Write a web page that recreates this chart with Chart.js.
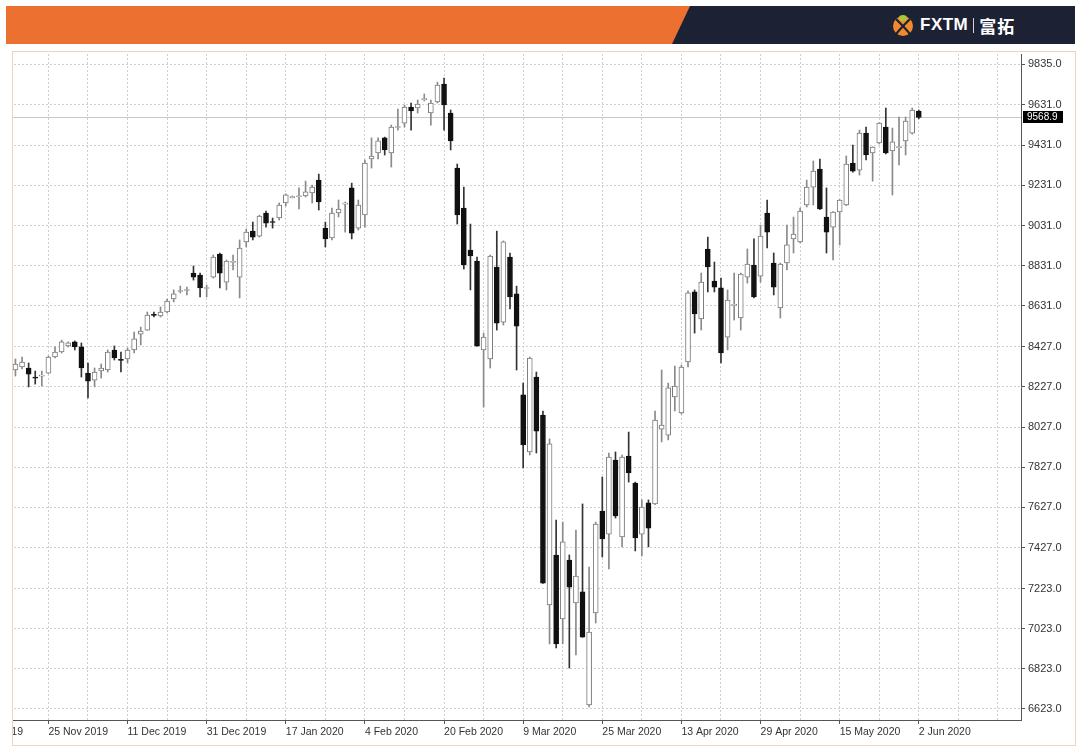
<!DOCTYPE html>
<html>
<head>
<meta charset="utf-8">
<script src="https://cdn.jsdelivr.net/npm/chart.js@4.4.1/dist/chart.umd.min.js"></script>
<style>
  body { margin: 0; width: 1080px; height: 751px; background: #fff; position: relative; overflow: hidden; font-family: "Liberation Sans", Arial, sans-serif; }
  .banner { position: absolute; left: 6px; top: 6px; width: 1069px; height: 38px; background: #1d2134; }
  .banner .orange { position: absolute; left: 0; top: 0; width: 684px; height: 38px; background: #ec7130;
    clip-path: polygon(0 0, 100% 0, calc(100% - 18px) 100%, 0 100%); }
  .logo { position: absolute; left: 886px; top: 7px; height: 24px; display: flex; align-items: center; color: #fff; }
  .logo .name { font: bold 17px "Liberation Sans", Arial, sans-serif; margin-left: 6px; letter-spacing: 0.5px; }
  .logo .sep { width: 1px; height: 15px; background: #fff; margin: 0 5px; opacity: 0.8; }
  .logo .cn { font: bold 17px "Noto Sans CJK SC", sans-serif; letter-spacing: 1px; }
  .frame { position: absolute; left: 12px; top: 51px; width: 1064px; height: 695px; border: 1px solid #f3d2bb; box-sizing: border-box; }
  .plot { position: absolute; left: 13px; top: 52px; width: 1061px; height: 692px; overflow: hidden; }
  .holder { position: absolute; left: -47px; top: 0; width: 1109px; height: 692px; }
</style>
</head>
<body>
<div class="banner">
  <div class="orange"></div>
  <div class="logo">
    <svg width="22" height="24" viewBox="0 0 22 24">
      <circle cx="11" cy="13" r="10" fill="#f08a2c"/>
      <path d="M4 6 C9 11, 13 15, 18 21" stroke="#1d2134" stroke-width="2.2" fill="none"/>
      <path d="M18 6 C13 11, 9 15, 4 21" stroke="#1d2134" stroke-width="2.2" fill="none"/>
      <ellipse cx="11" cy="5" rx="4" ry="3" fill="#a6c83a"/>
    </svg>
    <span class="name">FXTM</span><span class="sep"></span><span class="cn">富拓</span>
  </div>
</div>
<div class="frame"></div>
<div class="plot"><div class="holder"><canvas id="chart"></canvas></div></div>

<script>
// daily bars, 18 Nov 2019 .. 2 Jun 2020
const opens = [
  8311, 8326, 8321, 8276, 8281, 8296, 8376, 8401, 8431, 8451, 8426, 8296, 8261, 8306, 8311, 8411, 8363, 8366, 8411, 8490,
  8510, 8587, 8580, 8600, 8665, 8702, 8707, 8794, 8784, 8717, 8774, 8889, 8749, 8847, 8774, 8949, 9003, 8978, 9093, 9050,
  9068, 9143, 9170, 9174, 9178, 9193, 9257, 9018, 8969, 9093, 9137, 9218, 9018, 9083, 9362, 9392, 9467, 9392, 9519, 9541,
  9621, 9616, 9658, 9591, 9646, 9735, 9591, 9317, 9118, 8909, 8854, 8411, 8366, 8824, 8550, 8874, 8690, 8187, 7903, 8276,
  8087, 7141, 7390, 7071, 7365, 7151, 7206, 6643, 7101, 7609, 7494, 7863, 7480, 7883, 7748, 7494, 7649, 7644, 8017, 7987,
  8177, 8097, 8351, 8700, 8565, 8914, 8754, 8720, 8475, 8633, 8570, 8774, 8834, 8779, 9093, 8844, 8620, 8844, 8964, 8949,
  9133, 9222, 9312, 9073, 9023, 9098, 9133, 9342, 9307, 9491, 9392, 9442, 9521, 9402, 9419, 9452, 9491, 9601
];
const highs = [
  8366, 8376, 8346, 8306, 8306, 8381, 8426, 8460, 8451, 8456, 8446, 8346, 8321, 8341, 8411, 8431, 8401, 8421, 8500, 8525,
  8600, 8600, 8625, 8665, 8710, 8729, 8724, 8829, 8794, 8734, 8884, 8894, 8859, 8884, 8959, 9013, 9048, 9083, 9103, 9068,
  9143, 9188, 9178, 9218, 9252, 9232, 9287, 9048, 9118, 9158, 9148, 9242, 9158, 9357, 9467, 9467, 9471, 9531, 9611, 9631,
  9641, 9656, 9686, 9656, 9745, 9765, 9606, 9337, 9222, 9038, 8874, 8495, 8884, 9003, 8954, 8894, 8729, 8246, 8376, 8301,
  8107, 7968, 7564, 7554, 7390, 7514, 7644, 7330, 7554, 7778, 7898, 7903, 7888, 8002, 7753, 7664, 7664, 8107, 8311, 8246,
  8331, 8336, 8705, 8710, 8794, 8973, 8849, 8769, 8710, 8794, 8794, 8914, 8964, 9033, 9158, 8894, 8844, 9033, 9073, 9118,
  9257, 9352, 9362, 9218, 9100, 9160, 9377, 9432, 9506, 9521, 9423, 9543, 9616, 9516, 9571, 9571, 9616, 9606
];
const lows = [
  8281, 8316, 8227, 8241, 8231, 8294, 8371, 8396, 8426, 8411, 8276, 8172, 8227, 8271, 8301, 8361, 8301, 8346, 8396, 8436,
  8508, 8575, 8575, 8595, 8650, 8695, 8685, 8759, 8675, 8675, 8769, 8720, 8710, 8809, 8670, 8924, 8959, 8973, 9023, 9018,
  9058, 9128, 9168, 9113, 9173, 9143, 9108, 8924, 8959, 9073, 8998, 8964, 9008, 9023, 9317, 9362, 9382, 9322, 9506, 9521,
  9506, 9591, 9651, 9531, 9641, 9506, 9407, 9038, 8814, 8710, 8428, 8127, 8321, 8510, 8535, 8615, 8311, 7823, 7888, 7898,
  7248, 6947, 6927, 6947, 6827, 6892, 6980, 6633, 7051, 7380, 7320, 7574, 7430, 7753, 7410, 7385, 7430, 7641, 7953, 7963,
  8107, 8092, 8326, 8495, 8510, 8700, 8700, 8346, 8411, 8560, 8510, 8744, 8670, 8749, 8919, 8685, 8570, 8809, 8894, 8944,
  9123, 9133, 9110, 8894, 8859, 8934, 9130, 9297, 9282, 9357, 9252, 9437, 9387, 9183, 9332, 9382, 9486, 9562
];
const closes = [
  8341, 8351, 8291, 8271, 8286, 8376, 8401, 8451, 8446, 8426, 8321, 8256, 8301, 8321, 8401, 8371, 8359, 8411, 8466, 8505,
  8585, 8583, 8600, 8655, 8690, 8706, 8711, 8774, 8720, 8721, 8874, 8794, 8854, 8851, 8919, 8998, 8973, 9078, 9043, 9046,
  9133, 9183, 9174, 9176, 9198, 9222, 9148, 8964, 9093, 9113, 9142, 8993, 9133, 9342, 9377, 9452, 9407, 9521, 9523, 9621,
  9601, 9636, 9662, 9641, 9730, 9631, 9452, 9083, 8834, 8879, 8431, 8475, 8879, 8545, 8949, 8675, 8530, 7938, 8371, 8007,
  7250, 7943, 6947, 7455, 7230, 7285, 6981, 7006, 7544, 7470, 7878, 7584, 7878, 7798, 7475, 7629, 7524, 8062, 8037, 8222,
  8231, 8326, 8695, 8590, 8749, 8824, 8724, 8396, 8660, 8637, 8789, 8839, 8675, 8978, 8998, 8724, 8839, 8934, 8988, 9103,
  9222, 9302, 9113, 8998, 9098, 9158, 9337, 9302, 9491, 9382, 9422, 9541, 9392, 9447, 9423, 9551, 9606, 9568.9
];
const tickLabels = ['7 Nov 2019', '25 Nov 2019', '11 Dec 2019', '31 Dec 2019', '17 Jan 2020', '4 Feb 2020', '20 Feb 2020',
  '9 Mar 2020', '25 Mar 2020', '13 Apr 2020', '29 Apr 2020', '15 May 2020', '2 Jun 2020'];
const priceTicks = [9835, 9631, 9431, 9231, 9031, 8831, 8631, 8427, 8227, 8027, 7827, 7627, 7427, 7223, 7023, 6823, 6623];
const lastPrice = 9568.9;

const leadBars = 7;     // bars scrolled off the left edge
const tailBars = 15;    // empty space right of the last bar
const labelEvery = 12;
const gridEvery = 6;

const total = leadBars + opens.length + tailBars;
const labels = [];
for (let i = 0; i < total; i++) {
  labels.push(i % labelEvery === 0 && tickLabels[i / labelEvery] ? tickLabels[i / labelEvery] : '');
}
const pad = n => Array(n).fill(null);
const bodies = [...pad(leadBars), ...opens.map((o, i) => [o, closes[i]]), ...pad(tailBars)];
const wicks = [...pad(leadBars), ...lows.map((l, i) => [l, highs[i]]), ...pad(tailBars)];
const isUp = [...pad(leadBars), ...opens.map((o, i) => closes[i] >= o), ...pad(tailBars)];

const gridColor = '#cfcfcf';

const priceLine = {
  id: 'priceLine',
  beforeDatasetsDraw(chart) {
    const { ctx, chartArea, scales } = chart;
    const y = Math.round(scales.y.getPixelForValue(lastPrice)) + 0.5;
    ctx.save();
    ctx.strokeStyle = '#c8c8c8';
    ctx.lineWidth = 1;
    ctx.beginPath();
    ctx.moveTo(chartArea.left, y);
    ctx.lineTo(chartArea.right, y);
    ctx.stroke();
    ctx.restore();
  },
  afterDraw(chart) {
    const { ctx, chartArea, scales } = chart;
    const y = Math.round(scales.y.getPixelForValue(lastPrice));
    ctx.save();
    ctx.fillStyle = '#000';
    ctx.fillRect(chartArea.right + 2, y - 6, 40, 12);
    ctx.fillStyle = '#fff';
    ctx.font = '10px "Liberation Sans", Arial, sans-serif';
    ctx.textBaseline = 'middle';
    ctx.fillText(lastPrice.toFixed(1), chartArea.right + 6, y + 0.5);
    ctx.restore();
  }
};

new Chart(document.getElementById('chart'), {
  type: 'bar',
  data: {
    labels: labels,
    datasets: [
      {
        label: 'body',
        data: bodies,
        order: 0,
        grouped: false,
        barThickness: 5,
        borderWidth: 1,
        borderSkipped: false,
        minBarLength: 1,
        backgroundColor: isUp.map(u => u ? '#ffffff' : '#111111'),
        borderColor: isUp.map(u => u ? '#7a7a7a' : '#111111')
      },
      {
        label: 'wick',
        data: wicks,
        order: 1,
        grouped: false,
        barThickness: 1,
        borderWidth: 0,
        backgroundColor: isUp.map(u => u ? '#8a8a8a' : '#333333')
      }
    ]
  },
  options: {
    animation: false,
    responsive: true,
    maintainAspectRatio: false,
    layout: { padding: { top: 2, left: 0, right: 0, bottom: 0 } },
    plugins: { legend: { display: false }, tooltip: { enabled: false } },
    scales: {
      x: {
        offset: true,
        grid: {
          offset: false,
          color: c => (c.index % gridEvery === 0 ? gridColor : 'rgba(0,0,0,0)'),
          tickColor: c => (c.index % labelEvery === 0 && labels[c.index] ? '#555' : 'rgba(0,0,0,0)'),
          tickLength: 4,
          tickBorderDash: []
        },
        border: { color: '#555', width: 1, dash: [2, 2] },
        ticks: {
          autoSkip: false,
          maxRotation: 0,
          minRotation: 0,
          align: 'start',
          padding: 2,
          color: '#333',
          font: { family: '"Liberation Sans", Arial, sans-serif', size: 10.5 }
        },
        afterFit: s => { s.height = 24; s.paddingLeft = 0; s.paddingRight = 0; }
      },
      y: {
        position: 'right',
        min: 6568,
        max: 9885,
        afterBuildTicks: s => { s.ticks = priceTicks.map(v => ({ value: v })); },
        grid: { color: gridColor, tickColor: '#555', tickLength: 4, tickBorderDash: [] },
        border: { color: '#555', width: 1, dash: [2, 2] },
        ticks: {
          padding: 3,
          color: '#333',
          font: { family: '"Liberation Sans", Arial, sans-serif', size: 11 },
          callback: v => Number(v).toFixed(1)
        },
        afterFit: s => { s.width = 54; s.paddingTop = 0; s.paddingBottom = 0; }
      }
    }
  },
  plugins: [priceLine]
});
</script>
</body>
</html>
